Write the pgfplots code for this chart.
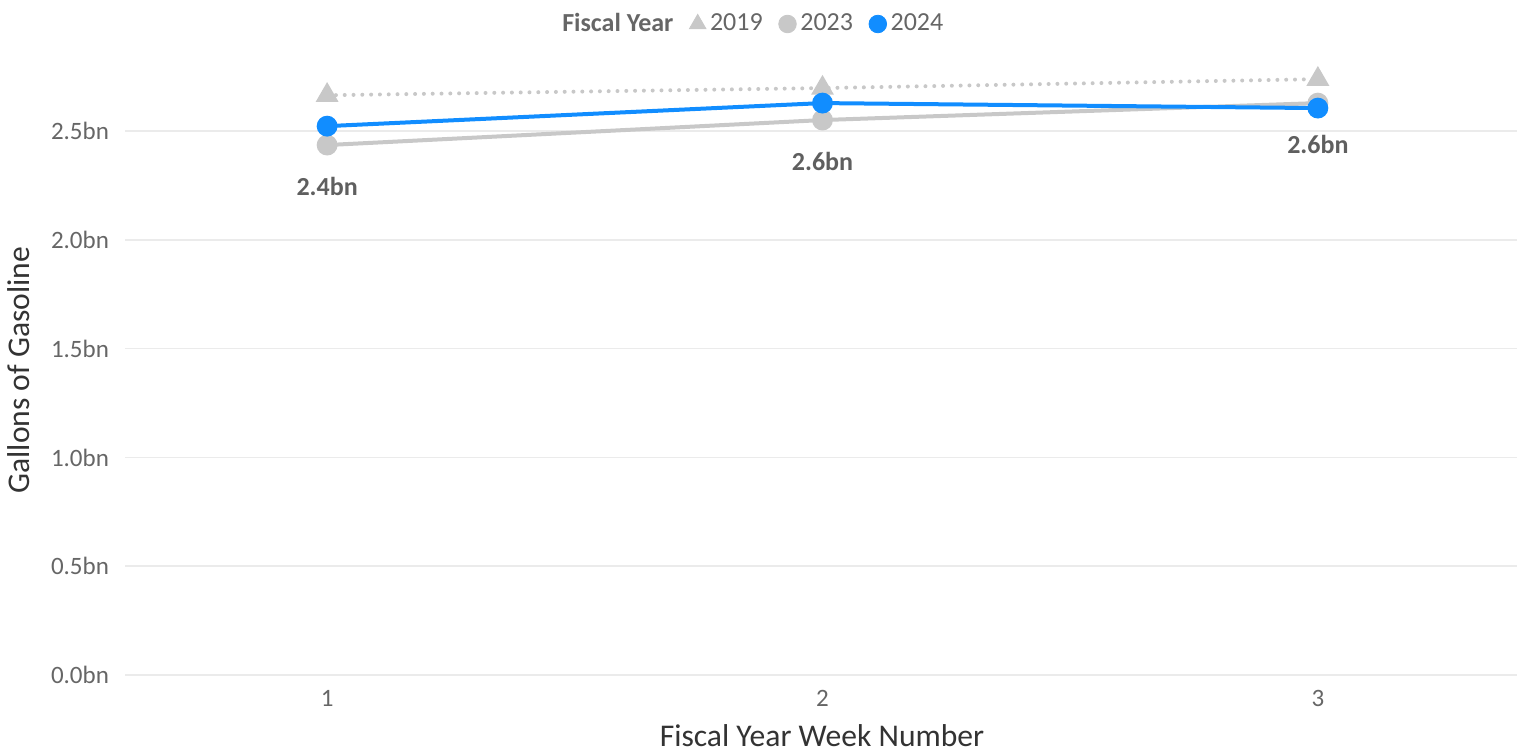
\documentclass[border=0pt]{standalone}
\usepackage{fontspec}
\setmainfont{Carlito}
\usepackage{pgfplots}
\pgfplotsset{compat=1.18}
\definecolor{lgray}{HTML}{C8C8C8}
\definecolor{pbblue}{HTML}{118DFF}
\definecolor{tickc}{HTML}{666666}
\definecolor{titlec}{HTML}{333333}
\definecolor{gridc}{HTML}{EBEBEB}
\definecolor{labc}{HTML}{5F5F5F}
\begin{document}
\begin{tikzpicture}[x=1pt,y=1pt]
\useasboundingbox (0,0) rectangle (762,376);
\begin{axis}[
  at={(62.5pt,38.5pt)}, anchor=south west,
  scale only axis, width=696pt, height=310pt,
  xmin=0.592, xmax=3.402, ymin=0, ymax=2.85,
  axis line style={draw=none},
  ymajorgrids, grid style={gridc, line width=0.8pt},
  xtick={1,2,3}, xticklabels={1,2,3},
  ytick={0,0.5,1,1.5,2,2.5},
  yticklabels={0.0bn,0.5bn,1.0bn,1.5bn,2.0bn,2.5bn},
  tick style={draw=none},
  ticklabel style={font=\fontsize{12.5}{14}\selectfont, text=tickc},
  yticklabel style={anchor=east, xshift=-4.5pt},
  xticklabel style={anchor=center, yshift=-11.5pt},
  xlabel={Fiscal Year Week Number},
  ylabel={Gallons of Gasoline},
  label style={font=\fontsize{15.8}{18}\selectfont, text=titlec},
  xlabel style={at={(axis description cs:0.5007,-0.097)}, anchor=center},
  ylabel style={at={(axis description cs:-0.0765,0.492)}, anchor=center},
  legend style={draw=none, fill=none, at={(axis description cs:0.451,1.05)}, anchor=center,
    legend columns=-1, font=\fontsize{13}{15}\selectfont\color{tickc},
    /tikz/every even column/.append style={column sep=6pt},
    legend cell align=left},
  clip=false,
]
\addlegendimage{empty legend}
\addlegendentry{\textbf{Fiscal Year}}
\addlegendimage{only marks, mark=triangle*, color=lgray, mark size=4.8pt}
\addlegendentry{2019}
\addlegendimage{only marks, mark=*, color=lgray, mark size=4.4pt}
\addlegendentry{2023}
\addlegendimage{only marks, mark=*, color=pbblue, mark size=4.4pt}
\addlegendentry{2024}

\addplot[forget plot, lgray, line width=2pt, dash pattern=on 0pt off 4.4pt, line cap=round,
  mark=triangle*, mark size=4.6pt, mark options={solid, fill=lgray, draw=lgray}]
  coordinates {(1,2.665) (2,2.698) (3,2.739)};

\addplot[forget plot, lgray, line width=2pt,
  mark=*, mark size=4.2pt, mark options={fill=lgray, draw=lgray},
  nodes near coords, point meta=explicit symbolic,
  every node near coord/.append style={anchor=center, yshift=-20.5pt,
    font=\fontsize{13}{15}\selectfont\bfseries, text=labc}]
  table[meta=label] {
x y label
1 2.436 2.4bn
2 2.551 2.6bn
3 2.629 2.6bn
};

\addplot[forget plot, pbblue, line width=2pt,
  mark=*, mark size=4.2pt, mark options={fill=pbblue, draw=pbblue}]
  coordinates {(1,2.523) (2,2.629) (3,2.606)};
\end{axis}
\end{tikzpicture}
\end{document}
